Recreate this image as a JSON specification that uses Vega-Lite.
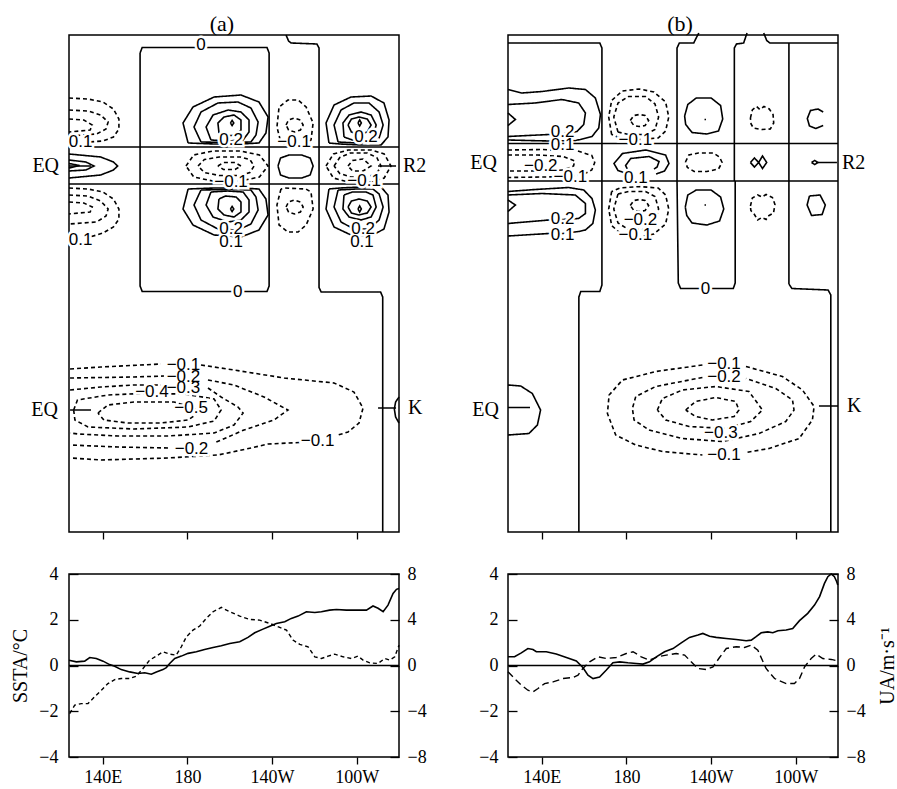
{
"$schema": "https://vega.github.io/schema/vega-lite/v6.json",
"background": "white",
"padding": {"left": 10, "top": 12, "right": 5, "bottom": 5},
"config": {
  "view": {"stroke": "black", "strokeWidth": 1.5},
  "axis": {"labelFont": "Liberation Serif", "labelFontSize": 18, "labelColor": "black", "tickColor": "black", "tickWidth": 1.3, "titleFont": "Liberation Serif", "titleFontSize": 20, "titleFontWeight": "normal", "titleColor": "black", "grid": false, "domain": false}
},
"datasets": {
"ca": [
{"c":"z1","d":"s","x":157.6,"y":95.8},{"c":"z1","d":"s","x":158.6,"y":96.9},{"c":"z1","d":"s","x":217.6,"y":96.9},{"c":"z1","d":"s","x":218.6,"y":95.8},{"c":"z1","d":"s","x":218.6,"y":49.2},{"c":"z1","d":"s","x":217.6,"y":48.1},{"c":"z1","d":"s","x":158.6,"y":48.1},{"c":"z1","d":"s","x":157.6,"y":49.2},{"c":"z1","d":"s","x":157.6,"y":95.8},
{"c":"z2","d":"s","x":226.6,"y":99.4},{"c":"z2","d":"s","x":227.8,"y":98.2},{"c":"z2","d":"s","x":229,"y":97.8},{"c":"z2","d":"s","x":241.2,"y":97.6},{"c":"z2","d":"s","x":242.2,"y":96.8},{"c":"z2","d":"s","x":242.2,"y":48.9},{"c":"z2","d":"s","x":243.2,"y":48.0},{"c":"z2","d":"s","x":271.3,"y":48.0},{"c":"z2","d":"s","x":272.3,"y":47.0},{"c":"z2","d":"s","x":272.3,"y":0},
{"c":"h1","d":"s","x":124,"y":77.0},{"c":"h1","d":"s","x":280,"y":77.0},
{"c":"h2","d":"s","x":124,"y":69.6},{"c":"h2","d":"s","x":280,"y":69.6},
{"c":"p1","d":"s","x":124,"y":75.6},{"c":"p1","d":"s","x":139,"y":75.0},{"c":"p1","d":"s","x":145,"y":74.0},{"c":"p1","d":"s","x":147,"y":73.2},{"c":"p1","d":"s","x":145,"y":72.4},{"c":"p1","d":"s","x":139,"y":71.4},{"c":"p1","d":"s","x":124,"y":70.8},
{"c":"p2","d":"s","x":124,"y":74.4},{"c":"p2","d":"s","x":132,"y":74.0},{"c":"p2","d":"s","x":135.8,"y":73.2},{"c":"p2","d":"s","x":132,"y":72.4},{"c":"p2","d":"s","x":124,"y":72.2},
{"c":"p3","d":"s","x":124,"y":73.7},{"c":"p3","d":"s","x":129,"y":73.3},{"c":"p3","d":"s","x":124,"y":72.8},
{"c":"eq1","d":"s","x":124,"y":73.2},{"c":"eq1","d":"s","x":134.4,"y":73.2},
{"c":"n1","d":"d","x":124,"y":86.8},{"c":"n1","d":"d","x":133,"y":86.6},{"c":"n1","d":"d","x":140,"y":86.0},{"c":"n1","d":"d","x":145,"y":84.6},{"c":"n1","d":"d","x":147.6,"y":82.6},{"c":"n1","d":"d","x":147.6,"y":80.6},{"c":"n1","d":"d","x":145,"y":79.0},{"c":"n1","d":"d","x":140,"y":78.2},{"c":"n1","d":"d","x":133.5,"y":78.0},
{"c":"n2","d":"d","x":124,"y":84.4},{"c":"n2","d":"d","x":133,"y":84.2},{"c":"n2","d":"d","x":139,"y":83.4},{"c":"n2","d":"d","x":142.5,"y":82.0},{"c":"n2","d":"d","x":141.5,"y":80.6},{"c":"n2","d":"d","x":137,"y":79.6},{"c":"n2","d":"d","x":124,"y":79.2},
{"c":"n3","d":"d","x":124,"y":82.6},{"c":"n3","d":"d","x":131,"y":82.4},{"c":"n3","d":"d","x":135,"y":81.4},{"c":"n3","d":"d","x":134,"y":80.4},{"c":"n3","d":"d","x":124,"y":80.0},
{"c":"n4","d":"d","x":124,"y":68.8},{"c":"n4","d":"d","x":133,"y":68.6},{"c":"n4","d":"d","x":140,"y":68.0},{"c":"n4","d":"d","x":145,"y":66.6},{"c":"n4","d":"d","x":147.6,"y":64.6},{"c":"n4","d":"d","x":147.6,"y":62.6},{"c":"n4","d":"d","x":145,"y":61.0},{"c":"n4","d":"d","x":140,"y":59.8},{"c":"n4","d":"d","x":134,"y":59.0},
{"c":"n5","d":"d","x":124,"y":67.4},{"c":"n5","d":"d","x":133,"y":67.2},{"c":"n5","d":"d","x":139,"y":66.2},{"c":"n5","d":"d","x":142.5,"y":64.6},{"c":"n5","d":"d","x":141.5,"y":63.2},{"c":"n5","d":"d","x":137,"y":62.0},{"c":"n5","d":"d","x":124,"y":61.6},
{"c":"n6","d":"d","x":124,"y":66.0},{"c":"n6","d":"d","x":131,"y":65.8},{"c":"n6","d":"d","x":135,"y":65.0},{"c":"n6","d":"d","x":134,"y":64.0},{"c":"n6","d":"d","x":124,"y":63.6},
{"c":"r1","d":"s","x":180.3,"y":77.8},{"c":"r1","d":"s","x":177.9,"y":81.8},{"c":"r1","d":"s","x":182.6,"y":85.0},{"c":"r1","d":"s","x":192.6,"y":87.0},{"c":"r1","d":"s","x":205.3,"y":87.4},{"c":"r1","d":"s","x":213.8,"y":86.0},{"c":"r1","d":"s","x":218.1,"y":83.0},{"c":"r1","d":"s","x":217.1,"y":79.8},{"c":"r1","d":"s","x":213.8,"y":77.8},{"c":"r1","d":"s","x":205.3,"y":77.6},{"c":"r1","d":"s","x":192.6,"y":77.6},{"c":"r1","d":"s","x":180.3,"y":77.8},
{"c":"r2","d":"s","x":186.4,"y":78.0},{"c":"r2","d":"s","x":183.1,"y":81.0},{"c":"r2","d":"s","x":186.4,"y":84.0},{"c":"r2","d":"s","x":194.4,"y":85.8},{"c":"r2","d":"s","x":203.9,"y":86.0},{"c":"r2","d":"s","x":210.0,"y":84.8},{"c":"r2","d":"s","x":213.4,"y":82.0},{"c":"r2","d":"s","x":212.4,"y":79.4},{"c":"r2","d":"s","x":210,"y":78.0},{"c":"r2","d":"s","x":200,"y":77.9},{"c":"r2","d":"s","x":186.4,"y":78.0},
{"c":"r3","d":"s","x":191.1,"y":78.4},{"c":"r3","d":"s","x":188.8,"y":81.0},{"c":"r3","d":"s","x":192.1,"y":83.4},{"c":"r3","d":"s","x":199.2,"y":84.4},{"c":"r3","d":"s","x":205.3,"y":84.0},{"c":"r3","d":"s","x":209.1,"y":82.4},{"c":"r3","d":"s","x":209.1,"y":80.0},{"c":"r3","d":"s","x":206.3,"y":78.4},{"c":"r3","d":"s","x":199,"y":78.2},{"c":"r3","d":"s","x":191.1,"y":78.4},
{"c":"r4","d":"s","x":194.9,"y":79.8},{"c":"r4","d":"s","x":194.4,"y":81.8},{"c":"r4","d":"s","x":197.3,"y":83.0},{"c":"r4","d":"s","x":202.0,"y":83.4},{"c":"r4","d":"s","x":205.3,"y":82.4},{"c":"r4","d":"s","x":205.3,"y":80.4},{"c":"r4","d":"s","x":203.0,"y":79.4},{"c":"r4","d":"s","x":198,"y":79.2},{"c":"r4","d":"s","x":194.9,"y":79.8},
{"c":"rd","d":"s","x":200.3,"y":81.8},{"c":"rd","d":"s","x":201.1,"y":82.3},{"c":"rd","d":"s","x":201.9,"y":81.8},{"c":"rd","d":"s","x":201.1,"y":81.3},{"c":"rd","d":"s","x":200.3,"y":81.8},
{"c":"r1b","d":"s","x":180.3,"y":68.6},{"c":"r1b","d":"s","x":177.9,"y":64.6},{"c":"r1b","d":"s","x":182.6,"y":61.4},{"c":"r1b","d":"s","x":192.6,"y":59.4},{"c":"r1b","d":"s","x":205.3,"y":59.0},{"c":"r1b","d":"s","x":213.8,"y":60.4},{"c":"r1b","d":"s","x":218.1,"y":63.4},{"c":"r1b","d":"s","x":217.1,"y":66.6},{"c":"r1b","d":"s","x":213.8,"y":68.6},{"c":"r1b","d":"s","x":205.3,"y":68.8},{"c":"r1b","d":"s","x":192.6,"y":68.8},{"c":"r1b","d":"s","x":180.3,"y":68.6},
{"c":"r2b","d":"s","x":186.4,"y":68.4},{"c":"r2b","d":"s","x":183.1,"y":65.4},{"c":"r2b","d":"s","x":186.4,"y":62.4},{"c":"r2b","d":"s","x":194.4,"y":60.6},{"c":"r2b","d":"s","x":203.9,"y":60.4},{"c":"r2b","d":"s","x":210.0,"y":61.6},{"c":"r2b","d":"s","x":213.4,"y":64.4},{"c":"r2b","d":"s","x":212.4,"y":67.0},{"c":"r2b","d":"s","x":210,"y":68.4},{"c":"r2b","d":"s","x":200,"y":68.5},{"c":"r2b","d":"s","x":186.4,"y":68.4},
{"c":"r3b","d":"s","x":191.1,"y":68.0},{"c":"r3b","d":"s","x":188.8,"y":65.4},{"c":"r3b","d":"s","x":192.1,"y":63.0},{"c":"r3b","d":"s","x":199.2,"y":62.0},{"c":"r3b","d":"s","x":205.3,"y":62.4},{"c":"r3b","d":"s","x":209.1,"y":64.0},{"c":"r3b","d":"s","x":209.1,"y":66.4},{"c":"r3b","d":"s","x":206.3,"y":68.0},{"c":"r3b","d":"s","x":199,"y":68.2},{"c":"r3b","d":"s","x":191.1,"y":68.0},
{"c":"r4b","d":"s","x":194.9,"y":66.6},{"c":"r4b","d":"s","x":194.4,"y":64.6},{"c":"r4b","d":"s","x":197.3,"y":63.4},{"c":"r4b","d":"s","x":202.0,"y":63.0},{"c":"r4b","d":"s","x":205.3,"y":64.0},{"c":"r4b","d":"s","x":205.3,"y":66.0},{"c":"r4b","d":"s","x":203.0,"y":67.0},{"c":"r4b","d":"s","x":198,"y":67.2},{"c":"r4b","d":"s","x":194.9,"y":66.6},
{"c":"rdb","d":"s","x":200.3,"y":64.6},{"c":"rdb","d":"s","x":201.1,"y":65.1},{"c":"rdb","d":"s","x":201.9,"y":64.6},{"c":"rdb","d":"s","x":201.1,"y":64.1},{"c":"rdb","d":"s","x":200.3,"y":64.6},
{"c":"m1","d":"d","x":179.3,"y":73.2},{"c":"m1","d":"d","x":183,"y":75.4},{"c":"m1","d":"d","x":192,"y":76.2},{"c":"m1","d":"d","x":205,"y":76.2},{"c":"m1","d":"d","x":214,"y":75.4},{"c":"m1","d":"d","x":218.1,"y":73.2},{"c":"m1","d":"d","x":214,"y":71.0},{"c":"m1","d":"d","x":205,"y":70.2},{"c":"m1","d":"d","x":192,"y":70.2},{"c":"m1","d":"d","x":183,"y":71.0},{"c":"m1","d":"d","x":179.3,"y":73.2},
{"c":"m2","d":"d","x":185,"y":73.2},{"c":"m2","d":"d","x":188,"y":74.5},{"c":"m2","d":"d","x":195,"y":75.0},{"c":"m2","d":"d","x":205,"y":75.0},{"c":"m2","d":"d","x":209.5,"y":74.5},{"c":"m2","d":"d","x":211.5,"y":73.2},{"c":"m2","d":"d","x":209.5,"y":71.9},{"c":"m2","d":"d","x":205,"y":71.3},{"c":"m2","d":"d","x":195,"y":71.3},{"c":"m2","d":"d","x":188,"y":71.9},{"c":"m2","d":"d","x":185,"y":73.2},
{"c":"m3","d":"d","x":194.4,"y":73.2},{"c":"m3","d":"d","x":197,"y":73.9},{"c":"m3","d":"d","x":202.5,"y":73.9},{"c":"m3","d":"d","x":205.3,"y":73.2},{"c":"m3","d":"d","x":202.5,"y":72.5},{"c":"m3","d":"d","x":197,"y":72.5},{"c":"m3","d":"d","x":194.4,"y":73.2},
{"c":"cn1","d":"d","x":226,"y":77.7},{"c":"cn1","d":"d","x":224.2,"y":77.8},{"c":"cn1","d":"d","x":222.3,"y":81.0},{"c":"cn1","d":"d","x":223.3,"y":85.0},{"c":"cn1","d":"d","x":227.5,"y":86.4},{"c":"cn1","d":"d","x":232.3,"y":86.4},{"c":"cn1","d":"d","x":236.1,"y":85.0},{"c":"cn1","d":"d","x":239.4,"y":81.8},{"c":"cn1","d":"d","x":238.4,"y":78.4},{"c":"cn1","d":"d","x":236,"y":77.8},
{"c":"cn2","d":"d","x":226.6,"y":81.4},{"c":"cn2","d":"d","x":227.8,"y":82.4},{"c":"cn2","d":"d","x":230.6,"y":82.8},{"c":"cn2","d":"d","x":233.4,"y":82.4},{"c":"cn2","d":"d","x":234.7,"y":81.4},{"c":"cn2","d":"d","x":233.4,"y":80.4},{"c":"cn2","d":"d","x":230.6,"y":80.0},{"c":"cn2","d":"d","x":227.8,"y":80.4},{"c":"cn2","d":"d","x":226.6,"y":81.4},
{"c":"cm","d":"s","x":222.8,"y":73.2},{"c":"cm","d":"s","x":224,"y":74.8},{"c":"cm","d":"s","x":228,"y":75.4},{"c":"cm","d":"s","x":234,"y":75.4},{"c":"cm","d":"s","x":238,"y":74.8},{"c":"cm","d":"s","x":239.4,"y":73.2},{"c":"cm","d":"s","x":238,"y":71.4},{"c":"cm","d":"s","x":234,"y":70.8},{"c":"cm","d":"s","x":228,"y":70.8},{"c":"cm","d":"s","x":224,"y":71.4},{"c":"cm","d":"s","x":222.8,"y":73.2},
{"c":"cn1b","d":"d","x":224.2,"y":68.6},{"c":"cn1b","d":"d","x":222.3,"y":65.4},{"c":"cn1b","d":"d","x":223.3,"y":61.4},{"c":"cn1b","d":"d","x":227.5,"y":60.0},{"c":"cn1b","d":"d","x":232.3,"y":60.0},{"c":"cn1b","d":"d","x":236.1,"y":61.4},{"c":"cn1b","d":"d","x":239.4,"y":64.6},{"c":"cn1b","d":"d","x":238.4,"y":68.0},{"c":"cn1b","d":"d","x":236,"y":68.6},{"c":"cn1b","d":"d","x":226,"y":68.8},{"c":"cn1b","d":"d","x":224.2,"y":68.6},
{"c":"cn2b","d":"d","x":226.6,"y":65.0},{"c":"cn2b","d":"d","x":227.8,"y":66.0},{"c":"cn2b","d":"d","x":230.6,"y":66.4},{"c":"cn2b","d":"d","x":233.4,"y":66.0},{"c":"cn2b","d":"d","x":234.7,"y":65.0},{"c":"cn2b","d":"d","x":233.4,"y":64.0},{"c":"cn2b","d":"d","x":230.6,"y":63.6},{"c":"cn2b","d":"d","x":227.8,"y":64.0},{"c":"cn2b","d":"d","x":226.6,"y":65.0},
{"c":"R1","d":"s","x":246.9,"y":77.8},{"c":"R1","d":"s","x":245.5,"y":81.8},{"c":"R1","d":"s","x":249.3,"y":85.4},{"c":"R1","d":"s","x":257.3,"y":87.0},{"c":"R1","d":"s","x":266.8,"y":87.2},{"c":"R1","d":"s","x":272.9,"y":85.8},{"c":"R1","d":"s","x":275.3,"y":82.4},{"c":"R1","d":"s","x":274.8,"y":79.0},{"c":"R1","d":"s","x":271.5,"y":77.4},{"c":"R1","d":"s","x":262,"y":77.4},{"c":"R1","d":"s","x":252,"y":77.6},{"c":"R1","d":"s","x":246.9,"y":77.8},
{"c":"R2","d":"s","x":251.2,"y":78.0},{"c":"R2","d":"s","x":249.3,"y":81.4},{"c":"R2","d":"s","x":252.6,"y":84.4},{"c":"R2","d":"s","x":258.7,"y":85.8},{"c":"R2","d":"s","x":265.8,"y":85.8},{"c":"R2","d":"s","x":270.6,"y":84.0},{"c":"R2","d":"s","x":272.5,"y":81.4},{"c":"R2","d":"s","x":270.6,"y":78.8},{"c":"R2","d":"s","x":267.7,"y":77.8},{"c":"R2","d":"s","x":260,"y":77.8},{"c":"R2","d":"s","x":251.2,"y":78.0},
{"c":"R3","d":"s","x":254.0,"y":79.0},{"c":"R3","d":"s","x":253.5,"y":81.8},{"c":"R3","d":"s","x":256.4,"y":83.4},{"c":"R3","d":"s","x":262.1,"y":84.0},{"c":"R3","d":"s","x":266.8,"y":83.4},{"c":"R3","d":"s","x":269.2,"y":81.4},{"c":"R3","d":"s","x":267.7,"y":79.0},{"c":"R3","d":"s","x":264.4,"y":78.4},{"c":"R3","d":"s","x":258,"y":78.4},{"c":"R3","d":"s","x":254,"y":79.0},
{"c":"R4","d":"s","x":255.9,"y":81.4},{"c":"R4","d":"s","x":257.5,"y":82.6},{"c":"R4","d":"s","x":261,"y":83.0},{"c":"R4","d":"s","x":265,"y":82.6},{"c":"R4","d":"s","x":266.8,"y":81.4},{"c":"R4","d":"s","x":265,"y":80.0},{"c":"R4","d":"s","x":261,"y":79.4},{"c":"R4","d":"s","x":257.5,"y":80.0},{"c":"R4","d":"s","x":255.9,"y":81.4},
{"c":"Rd","d":"s","x":260.6,"y":81.8},{"c":"Rd","d":"s","x":261.4,"y":82.4},{"c":"Rd","d":"s","x":262.2,"y":81.8},{"c":"Rd","d":"s","x":261.4,"y":81.2},{"c":"Rd","d":"s","x":260.6,"y":81.8},
{"c":"R1b","d":"s","x":246.9,"y":68.6},{"c":"R1b","d":"s","x":245.5,"y":64.6},{"c":"R1b","d":"s","x":249.3,"y":61.0},{"c":"R1b","d":"s","x":257.3,"y":59.4},{"c":"R1b","d":"s","x":266.8,"y":59.2},{"c":"R1b","d":"s","x":272.9,"y":60.6},{"c":"R1b","d":"s","x":275.3,"y":64.0},{"c":"R1b","d":"s","x":274.8,"y":67.4},{"c":"R1b","d":"s","x":271.5,"y":69.0},{"c":"R1b","d":"s","x":262,"y":69.0},{"c":"R1b","d":"s","x":252,"y":68.8},{"c":"R1b","d":"s","x":246.9,"y":68.6},
{"c":"R2b","d":"s","x":251.2,"y":68.4},{"c":"R2b","d":"s","x":249.3,"y":65.0},{"c":"R2b","d":"s","x":252.6,"y":62.0},{"c":"R2b","d":"s","x":258.7,"y":60.6},{"c":"R2b","d":"s","x":265.8,"y":60.6},{"c":"R2b","d":"s","x":270.6,"y":62.4},{"c":"R2b","d":"s","x":272.5,"y":65.0},{"c":"R2b","d":"s","x":270.6,"y":67.6},{"c":"R2b","d":"s","x":267.7,"y":68.6},{"c":"R2b","d":"s","x":260,"y":68.6},{"c":"R2b","d":"s","x":251.2,"y":68.4},
{"c":"R3b","d":"s","x":254.0,"y":67.4},{"c":"R3b","d":"s","x":253.5,"y":64.6},{"c":"R3b","d":"s","x":256.4,"y":63.0},{"c":"R3b","d":"s","x":262.1,"y":62.4},{"c":"R3b","d":"s","x":266.8,"y":63.0},{"c":"R3b","d":"s","x":269.2,"y":65.0},{"c":"R3b","d":"s","x":267.7,"y":67.4},{"c":"R3b","d":"s","x":264.4,"y":68.0},{"c":"R3b","d":"s","x":258,"y":68.0},{"c":"R3b","d":"s","x":254,"y":67.4},
{"c":"R4b","d":"s","x":255.9,"y":65.0},{"c":"R4b","d":"s","x":257.5,"y":66.2},{"c":"R4b","d":"s","x":261,"y":66.6},{"c":"R4b","d":"s","x":265,"y":66.2},{"c":"R4b","d":"s","x":266.8,"y":65.0},{"c":"R4b","d":"s","x":265,"y":63.8},{"c":"R4b","d":"s","x":261,"y":63.4},{"c":"R4b","d":"s","x":257.5,"y":63.8},{"c":"R4b","d":"s","x":255.9,"y":65.0},
{"c":"Rdb","d":"s","x":260.6,"y":64.6},{"c":"Rdb","d":"s","x":261.4,"y":65.2},{"c":"Rdb","d":"s","x":262.2,"y":64.6},{"c":"Rdb","d":"s","x":261.4,"y":64.0},{"c":"Rdb","d":"s","x":260.6,"y":64.6},
{"c":"M1","d":"d","x":245.5,"y":73.2},{"c":"M1","d":"d","x":249,"y":75.6},{"c":"M1","d":"d","x":256,"y":76.4},{"c":"M1","d":"d","x":267,"y":76.4},{"c":"M1","d":"d","x":273,"y":75.6},{"c":"M1","d":"d","x":276.2,"y":73.2},{"c":"M1","d":"d","x":273,"y":70.8},{"c":"M1","d":"d","x":267,"y":70.0},{"c":"M1","d":"d","x":256,"y":70.0},{"c":"M1","d":"d","x":249,"y":70.8},{"c":"M1","d":"d","x":245.5,"y":73.2},
{"c":"M2","d":"d","x":249.3,"y":73.2},{"c":"M2","d":"d","x":252,"y":74.9},{"c":"M2","d":"d","x":257,"y":75.8},{"c":"M2","d":"d","x":265,"y":75.8},{"c":"M2","d":"d","x":269.5,"y":74.9},{"c":"M2","d":"d","x":271.5,"y":73.2},{"c":"M2","d":"d","x":269.5,"y":71.7},{"c":"M2","d":"d","x":265,"y":71.0},{"c":"M2","d":"d","x":257,"y":71.0},{"c":"M2","d":"d","x":252,"y":71.7},{"c":"M2","d":"d","x":249.3,"y":73.2},
{"c":"M3","d":"d","x":255.9,"y":73.2},{"c":"M3","d":"d","x":258,"y":74.3},{"c":"M3","d":"d","x":263,"y":74.6},{"c":"M3","d":"d","x":266.8,"y":73.2},{"c":"M3","d":"d","x":263,"y":72.2},{"c":"M3","d":"d","x":258,"y":72.2},{"c":"M3","d":"d","x":255.9,"y":73.2},
{"c":"r2t","d":"s","x":270.1,"y":73.2},{"c":"r2t","d":"s","x":278.6,"y":73.2},
{"c":"K1a","d":"d","x":124.5,"y":32.6},{"c":"K1a","d":"d","x":139.1,"y":33.0},{"c":"K1a","d":"d","x":167.5,"y":33.6},
{"c":"K1b","d":"d","x":186.4,"y":33.4},{"c":"K1b","d":"d","x":202.0,"y":32.4},{"c":"K1b","d":"d","x":225.7,"y":30.8},{"c":"K1b","d":"d","x":249.3,"y":29.8},{"c":"K1b","d":"d","x":258.7,"y":28.0},{"c":"K1b","d":"d","x":263.0,"y":24.8},{"c":"K1b","d":"d","x":261.1,"y":21.8},{"c":"K1b","d":"d","x":255.9,"y":20.0},{"c":"K1b","d":"d","x":250.5,"y":19.3},
{"c":"K1c","d":"d","x":233,"y":17.9},{"c":"K1c","d":"d","x":218.1,"y":17.6},{"c":"K1c","d":"d","x":210.1,"y":16.8},{"c":"K1c","d":"d","x":194.4,"y":15.4},{"c":"K1c","d":"d","x":170.8,"y":14.8},{"c":"K1c","d":"d","x":139.1,"y":14.4},{"c":"K1c","d":"d","x":124.9,"y":14.8},
{"c":"K2a","d":"d","x":124.5,"y":30.8},{"c":"K2a","d":"d","x":154.7,"y":31.0},{"c":"K2a","d":"d","x":168.9,"y":31.2},
{"c":"K2b","d":"d","x":189.7,"y":30.4},{"c":"K2b","d":"d","x":202.0,"y":29.4},{"c":"K2b","d":"d","x":216.2,"y":27.0},{"c":"K2b","d":"d","x":227.5,"y":24.4},{"c":"K2b","d":"d","x":220.9,"y":22.4},{"c":"K2b","d":"d","x":206.7,"y":20.4},{"c":"K2b","d":"d","x":195.9,"y":18.4},{"c":"K2b","d":"d","x":192.6,"y":17.8},
{"c":"K2c","d":"d","x":170.8,"y":16.8},{"c":"K2c","d":"d","x":147.2,"y":17.0},{"c":"K2c","d":"d","x":124.5,"y":17.4},
{"c":"K3a","d":"d","x":124.5,"y":28.4},{"c":"K3a","d":"d","x":139.1,"y":29.0},{"c":"K3a","d":"d","x":154.7,"y":29.4},{"c":"K3a","d":"d","x":167.5,"y":29.4},
{"c":"K3b","d":"d","x":189.7,"y":28.8},{"c":"K3b","d":"d","x":195.9,"y":27.0},{"c":"K3b","d":"d","x":203.9,"y":25.0},{"c":"K3b","d":"d","x":206.3,"y":23.8},{"c":"K3b","d":"d","x":202.0,"y":21.4},{"c":"K3b","d":"d","x":192.6,"y":19.8},{"c":"K3b","d":"d","x":170.8,"y":19.2},{"c":"K3b","d":"d","x":147.2,"y":19.2},{"c":"K3b","d":"d","x":128.3,"y":19.6},{"c":"K3b","d":"d","x":124.5,"y":19.8},
{"c":"K4","d":"d","x":126.2,"y":24.4},{"c":"K4","d":"d","x":128,"y":26.4},{"c":"K4","d":"d","x":142.4,"y":27.4},{"c":"K4","d":"d","x":158.0,"y":27.7},{"c":"K4","d":"d","x":178.4,"y":27.6},{"c":"K4","d":"d","x":192.6,"y":26.6},{"c":"K4","d":"d","x":195.9,"y":24.4},{"c":"K4","d":"d","x":192.6,"y":22.2},{"c":"K4","d":"d","x":180.3,"y":21.0},{"c":"K4","d":"d","x":154.7,"y":20.6},{"c":"K4","d":"d","x":133.0,"y":21.0},{"c":"K4","d":"d","x":126.8,"y":22.4},{"c":"K4","d":"d","x":126.2,"y":24.4},
{"c":"K5","d":"d","x":137.7,"y":23.8},{"c":"K5","d":"d","x":142.4,"y":25.4},{"c":"K5","d":"d","x":154.7,"y":26.0},{"c":"K5","d":"d","x":173.6,"y":26.0},{"c":"K5","d":"d","x":183,"y":24.8},{"c":"K5","d":"d","x":185.0,"y":23.8},{"c":"K5","d":"d","x":180.3,"y":22.4},{"c":"K5","d":"d","x":167.5,"y":21.8},{"c":"K5","d":"d","x":151.9,"y":21.8},{"c":"K5","d":"d","x":140.5,"y":22.4},{"c":"K5","d":"d","x":137.7,"y":23.8},
{"c":"ks","d":"s","x":280,"y":27.0},{"c":"ks","d":"s","x":278.4,"y":26.0},{"c":"ks","d":"s","x":277.8,"y":24.6},{"c":"ks","d":"s","x":278.4,"y":23.0},{"c":"ks","d":"s","x":280,"y":21.8},
{"c":"eq2","d":"s","x":124.5,"y":24.4},{"c":"eq2","d":"s","x":134.4,"y":24.4},
{"c":"kt","d":"s","x":270.1,"y":24.8},{"c":"kt","d":"s","x":278.6,"y":24.8}
],
"la": [
{"x":186.4,"y":97.4,"t":"0"},{"x":203.8,"y":48.0,"t":"0"},
{"x":129.5,"y":78.0,"t":"0.1"},{"x":129.5,"y":58.4,"t":"0.1"},
{"x":200.6,"y":78.4,"t":"0.2"},{"x":200.6,"y":70.1,"t":"−0.1"},{"x":200.6,"y":58.1,"t":"0.1"},{"x":200.6,"y":60.6,"t":"0.2"},
{"x":230.4,"y":78.1,"t":"−0.1"},{"x":264.4,"y":79.0,"t":"0.2"},{"x":263.5,"y":70.3,"t":"−0.1"},{"x":262.5,"y":58.1,"t":"0.1"},{"x":263.0,"y":60.6,"t":"0.2"},
{"x":178.1,"y":33.5,"t":"−0.1"},{"x":178.1,"y":31.1,"t":"−0.2"},{"x":178.1,"y":28.9,"t":"−0.3"},{"x":163.2,"y":28.0,"t":"−0.4"},{"x":181.7,"y":24.9,"t":"−0.5"},{"x":181.9,"y":16.6,"t":"−0.2"},{"x":241.5,"y":18.3,"t":"−0.1"}
],
"sar": [{"x":119.3,"y":73.2,"t":"EQ"},{"x":118.8,"y":24.4,"t":"EQ"}],
"sal": [{"x":281.9,"y":73.2,"t":"R2"},{"x":284.3,"y":24.8,"t":"K"}],
"cb": [
{"c":"P1","d":"s","x":124,"y":97.8},{"c":"P1","d":"s","x":167.4,"y":97.8},{"c":"P1","d":"s","x":168.4,"y":96.8},{"c":"P1","d":"s","x":168.4,"y":49.4},{"c":"P1","d":"s","x":167.4,"y":48.1},{"c":"P1","d":"s","x":158.4,"y":48.1},{"c":"P1","d":"s","x":157.5,"y":47.0},{"c":"P1","d":"s","x":157.5,"y":0},
{"c":"P2","d":"s","x":214.2,"y":99.8},{"c":"P2","d":"s","x":213.2,"y":99.0},{"c":"P2","d":"s","x":211.8,"y":97.8},{"c":"P2","d":"s","x":205,"y":97.8},{"c":"P2","d":"s","x":203.9,"y":96.8},{"c":"P2","d":"s","x":203.9,"y":70.2},{"c":"P2","d":"s","x":204.5,"y":49.8},{"c":"P2","d":"s","x":205.6,"y":48.7},{"c":"P2","d":"s","x":230.5,"y":48.7},{"c":"P2","d":"s","x":231.4,"y":49.8},{"c":"P2","d":"s","x":231.4,"y":70.2},
{"c":"P3","d":"s","x":237.0,"y":99.8},{"c":"P3","d":"s","x":235.4,"y":97.8},{"c":"P3","d":"s","x":232,"y":97.6},{"c":"P3","d":"s","x":231.0,"y":96.8},{"c":"P3","d":"s","x":231.0,"y":70.2},
{"c":"P4","d":"s","x":244.9,"y":99.8},{"c":"P4","d":"s","x":246.3,"y":98.3},{"c":"P4","d":"s","x":247.8,"y":97.8},{"c":"P4","d":"s","x":280,"y":97.8},
{"c":"P5","d":"s","x":256.8,"y":97.8},{"c":"P5","d":"s","x":256.8,"y":49.6},{"c":"P5","d":"s","x":258.2,"y":48.7},{"c":"P5","d":"s","x":275.3,"y":48.4},{"c":"P5","d":"s","x":276.6,"y":47.4},{"c":"P5","d":"s","x":276.6,"y":0},
{"c":"H1","d":"s","x":124,"y":77.7},{"c":"H1","d":"s","x":280,"y":77.7},
{"c":"H2","d":"s","x":124,"y":70.2},{"c":"H2","d":"s","x":280,"y":70.2},
{"c":"LB1","d":"s","x":124,"y":88.5},{"c":"LB1","d":"s","x":130.6,"y":87.8},{"c":"LB1","d":"s","x":140.1,"y":88.1},{"c":"LB1","d":"s","x":152.7,"y":88.8},{"c":"LB1","d":"s","x":160.6,"y":88.5},{"c":"LB1","d":"s","x":165.3,"y":86.8},{"c":"LB1","d":"s","x":167.7,"y":83.5},{"c":"LB1","d":"s","x":166.9,"y":80.8},{"c":"LB1","d":"s","x":163.7,"y":79.1},{"c":"LB1","d":"s","x":158.2,"y":78.5},{"c":"LB1","d":"s","x":155.8,"y":78.3},{"c":"LB1","d":"s","x":143.2,"y":78.2},{"c":"LB1","d":"s","x":124,"y":78.4},
{"c":"LB2","d":"s","x":124,"y":85.5},{"c":"LB2","d":"s","x":136.9,"y":85.8},{"c":"LB2","d":"s","x":149.5,"y":86.5},{"c":"LB2","d":"s","x":157.4,"y":85.8},{"c":"LB2","d":"s","x":160.6,"y":83.8},{"c":"LB2","d":"s","x":159.8,"y":81.5},{"c":"LB2","d":"s","x":156.6,"y":80.1},{"c":"LB2","d":"s","x":149.8,"y":79.6},{"c":"LB2","d":"s","x":143.2,"y":79.5},{"c":"LB2","d":"s","x":124,"y":79.1},
{"c":"LB3","d":"s","x":124,"y":83.8},{"c":"LB3","d":"s","x":127.5,"y":82.5},{"c":"LB3","d":"s","x":124,"y":81.3},
{"c":"LB1b","d":"s","x":124,"y":68.1},{"c":"LB1b","d":"s","x":136.9,"y":68.5},{"c":"LB1b","d":"s","x":152.7,"y":68.9},{"c":"LB1b","d":"s","x":159.8,"y":68.4},{"c":"LB1b","d":"s","x":163.7,"y":66.7},{"c":"LB1b","d":"s","x":165.3,"y":64.4},{"c":"LB1b","d":"s","x":164.1,"y":61.7},{"c":"LB1b","d":"s","x":160.6,"y":60.4},{"c":"LB1b","d":"s","x":157.4,"y":60.1},{"c":"LB1b","d":"s","x":149.8,"y":59.7},{"c":"LB1b","d":"s","x":143.2,"y":59.7},{"c":"LB1b","d":"s","x":124,"y":59.2},
{"c":"LB2b","d":"s","x":124,"y":67.4},{"c":"LB2b","d":"s","x":140.1,"y":67.7},{"c":"LB2b","d":"s","x":155.8,"y":67.4},{"c":"LB2b","d":"s","x":160.6,"y":65.7},{"c":"LB2b","d":"s","x":160.6,"y":63.7},{"c":"LB2b","d":"s","x":157.4,"y":62.7},{"c":"LB2b","d":"s","x":149.8,"y":62.5},{"c":"LB2b","d":"s","x":143.2,"y":62.4},{"c":"LB2b","d":"s","x":124,"y":61.7},
{"c":"LB3b","d":"s","x":124,"y":66.4},{"c":"LB3b","d":"s","x":127.5,"y":65.4},{"c":"LB3b","d":"s","x":124,"y":64.1},
{"c":"LD1","d":"d","x":124,"y":76.4},{"c":"LD1","d":"d","x":140,"y":76.5},{"c":"LD1","d":"d","x":157,"y":76.2},{"c":"LD1","d":"d","x":163.6,"y":75.3},{"c":"LD1","d":"d","x":165,"y":73.9},{"c":"LD1","d":"d","x":163.6,"y":72.4},{"c":"LD1","d":"d","x":159,"y":71.4},{"c":"LD1","d":"d","x":150,"y":71.1},{"c":"LD1","d":"d","x":141,"y":71.0},{"c":"LD1","d":"d","x":124,"y":70.9},
{"c":"LD2","d":"d","x":124,"y":75.4},{"c":"LD2","d":"d","x":138,"y":75.4},{"c":"LD2","d":"d","x":150,"y":75.1},{"c":"LD2","d":"d","x":155.5,"y":74.2},{"c":"LD2","d":"d","x":155,"y":73.2},{"c":"LD2","d":"d","x":150,"y":72.4},{"c":"LD2","d":"d","x":140,"y":72.2},{"c":"LD2","d":"d","x":124,"y":72.2},
{"c":"CD1","d":"d","x":173,"y":79.5},{"c":"CD1","d":"d","x":171.6,"y":83},{"c":"CD1","d":"d","x":173,"y":86.3},{"c":"CD1","d":"d","x":178,"y":88.2},{"c":"CD1","d":"d","x":186,"y":88.6},{"c":"CD1","d":"d","x":193,"y":88.0},{"c":"CD1","d":"d","x":198.5,"y":86},{"c":"CD1","d":"d","x":200,"y":83},{"c":"CD1","d":"d","x":198.5,"y":80.2},{"c":"CD1","d":"d","x":195,"y":78.8},{"c":"CD1","d":"d","x":186,"y":78.5},{"c":"CD1","d":"d","x":177,"y":78.8},{"c":"CD1","d":"d","x":173,"y":79.5},
{"c":"CD2","d":"d","x":176,"y":80},{"c":"CD2","d":"d","x":174,"y":83},{"c":"CD2","d":"d","x":176,"y":85.8},{"c":"CD2","d":"d","x":181,"y":87.1},{"c":"CD2","d":"d","x":189,"y":87.1},{"c":"CD2","d":"d","x":193.5,"y":85.6},{"c":"CD2","d":"d","x":195.2,"y":83},{"c":"CD2","d":"d","x":193.5,"y":80.5},{"c":"CD2","d":"d","x":189,"y":79.5},{"c":"CD2","d":"d","x":181,"y":79.5},{"c":"CD2","d":"d","x":176,"y":80},
{"c":"CD3","d":"d","x":181.8,"y":82.3},{"c":"CD3","d":"d","x":183.5,"y":83.3},{"c":"CD3","d":"d","x":186,"y":83.5},{"c":"CD3","d":"d","x":188.8,"y":83.3},{"c":"CD3","d":"d","x":190.5,"y":82.3},{"c":"CD3","d":"d","x":188.8,"y":81.3},{"c":"CD3","d":"d","x":186,"y":81.1},{"c":"CD3","d":"d","x":183.5,"y":81.3},{"c":"CD3","d":"d","x":181.8,"y":82.3},
{"c":"CM1","d":"s","x":180,"y":71.7},{"c":"CM1","d":"s","x":176,"y":72.3},{"c":"CM1","d":"s","x":174.1,"y":73.7},{"c":"CM1","d":"s","x":178.1,"y":75.7},{"c":"CM1","d":"s","x":189.1,"y":76.4},{"c":"CM1","d":"s","x":198.5,"y":75.4},{"c":"CM1","d":"s","x":200.1,"y":73.7},{"c":"CM1","d":"s","x":198,"y":72.2},{"c":"CM1","d":"s","x":194,"y":71.6},
{"c":"CM2","d":"s","x":180.5,"y":72.5},{"c":"CM2","d":"s","x":179.6,"y":73.3},{"c":"CM2","d":"s","x":182,"y":74.7},{"c":"CM2","d":"s","x":190.7,"y":75.1},{"c":"CM2","d":"s","x":195.4,"y":74.1},{"c":"CM2","d":"s","x":194.5,"y":73.0},{"c":"CM2","d":"s","x":193,"y":72.6},
{"c":"CD1b","d":"d","x":173,"y":68.1},{"c":"CD1b","d":"d","x":171.6,"y":64.6},{"c":"CD1b","d":"d","x":173,"y":61.3},{"c":"CD1b","d":"d","x":178,"y":59.4},{"c":"CD1b","d":"d","x":186,"y":59.0},{"c":"CD1b","d":"d","x":193,"y":59.6},{"c":"CD1b","d":"d","x":198.5,"y":61.6},{"c":"CD1b","d":"d","x":200,"y":64.6},{"c":"CD1b","d":"d","x":198.5,"y":67.4},{"c":"CD1b","d":"d","x":195,"y":68.8},{"c":"CD1b","d":"d","x":186,"y":69.1},{"c":"CD1b","d":"d","x":177,"y":68.8},{"c":"CD1b","d":"d","x":173,"y":68.1},
{"c":"CD2b","d":"d","x":176,"y":67.6},{"c":"CD2b","d":"d","x":174,"y":64.6},{"c":"CD2b","d":"d","x":176,"y":61.8},{"c":"CD2b","d":"d","x":181,"y":60.5},{"c":"CD2b","d":"d","x":189,"y":60.5},{"c":"CD2b","d":"d","x":193.5,"y":62.0},{"c":"CD2b","d":"d","x":195.2,"y":64.6},{"c":"CD2b","d":"d","x":193.5,"y":67.1},{"c":"CD2b","d":"d","x":189,"y":68.1},{"c":"CD2b","d":"d","x":181,"y":68.1},{"c":"CD2b","d":"d","x":176,"y":67.6},
{"c":"CD3b","d":"d","x":181.8,"y":65.3},{"c":"CD3b","d":"d","x":183.5,"y":66.3},{"c":"CD3b","d":"d","x":186,"y":66.5},{"c":"CD3b","d":"d","x":188.8,"y":66.3},{"c":"CD3b","d":"d","x":190.5,"y":65.3},{"c":"CD3b","d":"d","x":188.8,"y":64.3},{"c":"CD3b","d":"d","x":186,"y":64.1},{"c":"CD3b","d":"d","x":183.5,"y":64.3},{"c":"CD3b","d":"d","x":181.8,"y":65.3},
{"c":"C3a","d":"s","x":207.5,"y":83.2},{"c":"C3a","d":"s","x":209,"y":85.5},{"c":"C3a","d":"s","x":213,"y":86.8},{"c":"C3a","d":"s","x":220,"y":86.8},{"c":"C3a","d":"s","x":224.5,"y":85.3},{"c":"C3a","d":"s","x":225.5,"y":82.6},{"c":"C3a","d":"s","x":223.5,"y":80.2},{"c":"C3a","d":"s","x":218,"y":79.6},{"c":"C3a","d":"s","x":211,"y":79.9},{"c":"C3a","d":"s","x":208,"y":81.5},{"c":"C3a","d":"s","x":207.5,"y":83.2},
{"c":"dot1","d":"s","x":216.9,"y":82.5},{"c":"dot1","d":"s","x":217.6,"y":82.5},
{"c":"C3m","d":"d","x":207.9,"y":74.0},{"c":"C3m","d":"d","x":209.5,"y":75.4},{"c":"C3m","d":"d","x":214,"y":75.8},{"c":"C3m","d":"d","x":221,"y":75.8},{"c":"C3m","d":"d","x":224,"y":75.0},{"c":"C3m","d":"d","x":225.2,"y":73.9},{"c":"C3m","d":"d","x":223.5,"y":72.6},{"c":"C3m","d":"d","x":218,"y":72.1},{"c":"C3m","d":"d","x":212,"y":72.1},{"c":"C3m","d":"d","x":208.8,"y":72.9},{"c":"C3m","d":"d","x":207.9,"y":74.0},
{"c":"C3b","d":"s","x":207.8,"y":65.0},{"c":"C3b","d":"s","x":209,"y":67.4},{"c":"C3b","d":"s","x":213,"y":68.4},{"c":"C3b","d":"s","x":220,"y":68.4},{"c":"C3b","d":"s","x":224.5,"y":67.0},{"c":"C3b","d":"s","x":226,"y":64.6},{"c":"C3b","d":"s","x":224,"y":62.2},{"c":"C3b","d":"s","x":218,"y":61.4},{"c":"C3b","d":"s","x":211,"y":61.8},{"c":"C3b","d":"s","x":208.5,"y":63.3},{"c":"C3b","d":"s","x":207.8,"y":65.0},
{"c":"dot2","d":"s","x":216.9,"y":65.4},{"c":"dot2","d":"s","x":217.6,"y":65.4},
{"c":"C4a","d":"d","x":238.6,"y":82.8},{"c":"C4a","d":"d","x":239.5,"y":84.4},{"c":"C4a","d":"d","x":241.5,"y":85.1},{"c":"C4a","d":"d","x":243,"y":84.5},{"c":"C4a","d":"d","x":245,"y":85.1},{"c":"C4a","d":"d","x":247.5,"y":84.6},{"c":"C4a","d":"d","x":249.3,"y":83.5},{"c":"C4a","d":"d","x":249.6,"y":81.8},{"c":"C4a","d":"d","x":248,"y":80.6},{"c":"C4a","d":"d","x":244,"y":80.5},{"c":"C4a","d":"d","x":240,"y":80.8},{"c":"C4a","d":"d","x":238.9,"y":81.6},{"c":"C4a","d":"d","x":238.6,"y":82.8},
{"c":"C4m","d":"s","x":238.6,"y":73.9},{"c":"C4m","d":"s","x":240.5,"y":74.8},{"c":"C4m","d":"s","x":242.5,"y":73.9},{"c":"C4m","d":"s","x":244.3,"y":75.2},{"c":"C4m","d":"s","x":246.3,"y":73.9},{"c":"C4m","d":"s","x":244.3,"y":72.7},{"c":"C4m","d":"s","x":242.5,"y":73.9},{"c":"C4m","d":"s","x":240.5,"y":73.0},{"c":"C4m","d":"s","x":238.6,"y":73.9},
{"c":"C4b","d":"d","x":238.6,"y":65.2},{"c":"C4b","d":"d","x":239.5,"y":66.8},{"c":"C4b","d":"d","x":242,"y":67.4},{"c":"C4b","d":"d","x":244,"y":67.0},{"c":"C4b","d":"d","x":246,"y":67.5},{"c":"C4b","d":"d","x":249,"y":66.9},{"c":"C4b","d":"d","x":250.2,"y":65.5},{"c":"C4b","d":"d","x":249.5,"y":63.8},{"c":"C4b","d":"d","x":247,"y":63.2},{"c":"C4b","d":"d","x":246,"y":62.5},{"c":"C4b","d":"d","x":244,"y":62.9},{"c":"C4b","d":"d","x":242,"y":62.4},{"c":"C4b","d":"d","x":240.5,"y":63.5},{"c":"C4b","d":"d","x":238.8,"y":64.3},{"c":"C4b","d":"d","x":238.6,"y":65.2},
{"c":"C5a","d":"s","x":273.0,"y":84.0},{"c":"C5a","d":"s","x":270.5,"y":84.6},{"c":"C5a","d":"s","x":267,"y":84.3},{"c":"C5a","d":"s","x":265.5,"y":82.7},{"c":"C5a","d":"s","x":266.5,"y":81.2},{"c":"C5a","d":"s","x":269.5,"y":80.7},{"c":"C5a","d":"s","x":273.0,"y":81.3},
{"c":"C5s","d":"s","x":267.5,"y":73.9},{"c":"C5s","d":"s","x":269,"y":74.3},{"c":"C5s","d":"s","x":270.5,"y":73.9},{"c":"C5s","d":"s","x":269,"y":73.5},{"c":"C5s","d":"s","x":267.5,"y":73.9},
{"c":"r2tb","d":"s","x":270.5,"y":73.9},{"c":"r2tb","d":"s","x":279.5,"y":73.9},
{"c":"C5b","d":"s","x":266.5,"y":67.2},{"c":"C5b","d":"s","x":271.5,"y":67.4},{"c":"C5b","d":"s","x":274,"y":65.4},{"c":"C5b","d":"s","x":272.5,"y":63.5},{"c":"C5b","d":"s","x":267.5,"y":63.3},{"c":"C5b","d":"s","x":265.4,"y":65.4},{"c":"C5b","d":"s","x":266.5,"y":67.2},
{"c":"KB0","d":"s","x":124,"y":29.4},{"c":"KB0","d":"s","x":130,"y":29.2},{"c":"KB0","d":"s","x":135.5,"y":27.7},{"c":"KB0","d":"s","x":139.4,"y":24.4},{"c":"KB0","d":"s","x":137.9,"y":21.4},{"c":"KB0","d":"s","x":133.9,"y":19.7},{"c":"KB0","d":"s","x":124,"y":19.4},
{"c":"eqb","d":"s","x":124,"y":24.9},{"c":"eqb","d":"s","x":134.4,"y":24.9},
{"c":"KB1a","d":"d","x":215.9,"y":33.4},{"c":"KB1a","d":"d","x":193.8,"y":32.1},{"c":"KB1a","d":"d","x":178.1,"y":30.4},{"c":"KB1a","d":"d","x":171.8,"y":27.4},{"c":"KB1a","d":"d","x":171.0,"y":23.7},{"c":"KB1a","d":"d","x":174.9,"y":19.4},{"c":"KB1a","d":"d","x":184.4,"y":17.4},{"c":"KB1a","d":"d","x":197.0,"y":16.1},{"c":"KB1a","d":"d","x":215.9,"y":15.4},
{"c":"KB1b","d":"d","x":236.5,"y":33.1},{"c":"KB1b","d":"d","x":253.7,"y":31.1},{"c":"KB1b","d":"d","x":263.2,"y":28.4},{"c":"KB1b","d":"d","x":268.7,"y":25.1},{"c":"KB1b","d":"d","x":267.9,"y":22.4},{"c":"KB1b","d":"d","x":261.6,"y":18.7},{"c":"KB1b","d":"d","x":247.4,"y":16.7},{"c":"KB1b","d":"d","x":236.5,"y":15.9},
{"c":"KB2","d":"d","x":215.9,"y":30.9},{"c":"KB2","d":"d","x":193.8,"y":29.1},{"c":"KB2","d":"d","x":184.4,"y":27.1},{"c":"KB2","d":"d","x":182.8,"y":24.7},{"c":"KB2","d":"d","x":183.6,"y":22.4},{"c":"KB2","d":"d","x":190.7,"y":20.4},{"c":"KB2","d":"d","x":206.4,"y":18.7},{"c":"KB2","d":"d","x":225.3,"y":18.1},{"c":"KB2","d":"d","x":242.7,"y":19.7},{"c":"KB2","d":"d","x":255.3,"y":22.1},{"c":"KB2","d":"d","x":259.2,"y":24.4},{"c":"KB2","d":"d","x":258.5,"y":26.4},{"c":"KB2","d":"d","x":250.6,"y":28.7},{"c":"KB2","d":"d","x":236.5,"y":30.7},
{"c":"KB3","d":"d","x":194.6,"y":24.4},{"c":"KB3","d":"d","x":197.0,"y":26.7},{"c":"KB3","d":"d","x":206.4,"y":28.4},{"c":"KB3","d":"d","x":222.2,"y":29.1},{"c":"KB3","d":"d","x":237.9,"y":28.1},{"c":"KB3","d":"d","x":244.3,"y":24.4},{"c":"KB3","d":"d","x":238.7,"y":22.1},{"c":"KB3","d":"d","x":226.9,"y":20.7},{"c":"KB3","d":"d","x":209.6,"y":21.1},{"c":"KB3","d":"d","x":198.6,"y":22.4},{"c":"KB3","d":"d","x":194.6,"y":24.4},
{"c":"KB4","d":"d","x":208.0,"y":24.4},{"c":"KB4","d":"d","x":212.7,"y":26.1},{"c":"KB4","d":"d","x":222.2,"y":26.9},{"c":"KB4","d":"d","x":231.6,"y":26.1},{"c":"KB4","d":"d","x":233.2,"y":24.4},{"c":"KB4","d":"d","x":230.9,"y":23.1},{"c":"KB4","d":"d","x":220.6,"y":22.4},{"c":"KB4","d":"d","x":212.7,"y":23.1},{"c":"KB4","d":"d","x":208.0,"y":24.4},
{"c":"kbt","d":"s","x":271,"y":25.2},{"c":"kbt","d":"s","x":280,"y":25.2}
],
"lb": [
{"x":149.8,"y":77.5,"t":"0.1"},{"x":149.8,"y":80.0,"t":"0.2"},
{"x":139.5,"y":73.3,"t":"−0.2"},{"x":153.5,"y":71.0,"t":"−0.1"},{"x":184.2,"y":78.4,"t":"−0.1"},{"x":184.4,"y":70.9,"t":"0.1"},
{"x":149.8,"y":59.4,"t":"0.1"},{"x":149.8,"y":62.7,"t":"0.2"},{"x":186.6,"y":62.4,"t":"−0.2"},{"x":184.2,"y":59.5,"t":"−0.1"},
{"x":217.4,"y":48.7,"t":"0"},
{"x":226.1,"y":33.6,"t":"−0.1"},{"x":226.1,"y":31.0,"t":"−0.2"},{"x":224.6,"y":19.9,"t":"−0.3"},{"x":226.1,"y":15.4,"t":"−0.1"}
],
"sbr": [{"x":118.8,"y":73.8,"t":"EQ"},{"x":119.7,"y":24.4,"t":"EQ"}],
"sbl": [{"x":281.9,"y":73.9,"t":"R2"},{"x":284.3,"y":25.2,"t":"K"}],
"ssta_a": [
{"x":124.0,"v":0.23},{"x":127.5,"v":0.16},{"x":131.4,"v":0.19},{"x":133.8,"v":0.35},{"x":136.9,"v":0.31},{"x":140.1,"v":0.19},{"x":143.2,"v":0.04},{"x":145.6,"v":-0.03},{"x":148.7,"v":-0.18},{"x":152.7,"v":-0.28},{"x":156.6,"v":-0.35},{"x":159.8,"v":-0.32},{"x":162.9,"v":-0.38},{"x":165.3,"v":-0.28},{"x":168.4,"v":-0.18},{"x":170.0,"v":-0.09},{"x":171.6,"v":0.09},{"x":174.0,"v":0.31},{"x":177.1,"v":0.41},{"x":180.3,"v":0.53},{"x":184.2,"v":0.60},{"x":188.1,"v":0.70},{"x":192.1,"v":0.79},{"x":196.0,"v":0.86},{"x":200.0,"v":0.96},{"x":204.7,"v":1.04},{"x":208.6,"v":1.23},{"x":211.8,"v":1.43},{"x":215.7,"v":1.59},{"x":218.9,"v":1.72},{"x":222.0,"v":1.84},{"x":226.0,"v":1.91},{"x":229.1,"v":2.06},{"x":232.3,"v":2.16},{"x":236.2,"v":2.35},{"x":240.2,"v":2.32},{"x":243.3,"v":2.35},{"x":247.2,"v":2.42},{"x":250.4,"v":2.45},{"x":255.1,"v":2.42},{"x":259.9,"v":2.42},{"x":264.6,"v":2.42},{"x":267.7,"v":2.60},{"x":270.1,"v":2.50},{"x":272.5,"v":2.35},{"x":274.8,"v":2.64},{"x":277.2,"v":3.15},{"x":278.8,"v":3.33},{"x":280.0,"v":3.37}
],
"ua_a": [
{"x":124.3,"u":-4.20},{"x":126.7,"u":-3.47},{"x":129.8,"u":-3.33},{"x":133.0,"u":-3.33},{"x":136.1,"u":-2.74},{"x":139.3,"u":-2.16},{"x":142.4,"u":-1.58},{"x":145.6,"u":-1.23},{"x":148.7,"u":-1.14},{"x":152.7,"u":-1.14},{"x":155.8,"u":-0.93},{"x":159.0,"u":-0.26},{"x":162.1,"u":0.47},{"x":165.3,"u":0.82},{"x":168.4,"u":1.20},{"x":171.6,"u":0.99},{"x":174.7,"u":0.91},{"x":177.1,"u":1.64},{"x":179.5,"u":2.51},{"x":182.6,"u":3.09},{"x":185.8,"u":3.45},{"x":188.9,"u":4.12},{"x":192.1,"u":4.70},{"x":196.0,"u":5.08},{"x":200.0,"u":4.70},{"x":204.7,"u":4.32},{"x":209.4,"u":4.03},{"x":214.1,"u":3.97},{"x":218.9,"u":3.68},{"x":223.6,"u":3.33},{"x":226.8,"u":3.09},{"x":229.9,"u":2.22},{"x":233.1,"u":1.84},{"x":237.0,"u":1.64},{"x":240.2,"u":0.76},{"x":243.3,"u":0.61},{"x":246.5,"u":0.82},{"x":249.6,"u":0.99},{"x":253.6,"u":0.76},{"x":257.5,"u":0.61},{"x":260.6,"u":0.82},{"x":263.0,"u":0.47},{"x":266.2,"u":0.23},{"x":270.1,"u":0.18},{"x":273.3,"u":0.61},{"x":275.6,"u":0.47},{"x":278.0,"u":0.76},{"x":280.0,"u":1.78}
],
"ssta_b": [
{"x":124.0,"v":0.38},{"x":127.1,"v":0.38},{"x":130.3,"v":0.55},{"x":133.4,"v":0.74},{"x":135.8,"v":0.70},{"x":137.4,"v":0.60},{"x":142.1,"v":0.60},{"x":146.8,"v":0.50},{"x":151.6,"v":0.35},{"x":156.3,"v":0.20},{"x":159.4,"v":-0.09},{"x":161.8,"v":-0.42},{"x":164.2,"v":-0.57},{"x":167.3,"v":-0.50},{"x":170.5,"v":-0.20},{"x":173.6,"v":0.12},{"x":176.8,"v":0.16},{"x":180.7,"v":0.12},{"x":184.6,"v":0.09},{"x":187.8,"v":0.06},{"x":190.9,"v":0.16},{"x":194.1,"v":0.38},{"x":198.0,"v":0.60},{"x":202.0,"v":0.74},{"x":205.9,"v":0.99},{"x":209.8,"v":1.23},{"x":213.8,"v":1.33},{"x":216.1,"v":1.40},{"x":219.3,"v":1.28},{"x":222.4,"v":1.23},{"x":227.2,"v":1.18},{"x":231.9,"v":1.14},{"x":236.6,"v":1.08},{"x":239.0,"v":1.11},{"x":241.3,"v":1.26},{"x":243.7,"v":1.43},{"x":246.8,"v":1.47},{"x":249.2,"v":1.43},{"x":251.6,"v":1.52},{"x":255.5,"v":1.55},{"x":258.6,"v":1.62},{"x":261.8,"v":1.96},{"x":265.7,"v":2.28},{"x":268.9,"v":2.64},{"x":271.3,"v":3.01},{"x":273.6,"v":3.59},{"x":275.2,"v":3.88},{"x":276.8,"v":4.00},{"x":278.3,"v":3.88},{"x":279.4,"v":3.66},{"x":279.9,"v":3.52}
],
"ua_b": [
{"x":124.0,"u":-0.55},{"x":127.1,"u":-1.14},{"x":130.3,"u":-1.72},{"x":133.4,"u":-2.16},{"x":135.8,"u":-2.31},{"x":138.2,"u":-2.01},{"x":141.3,"u":-1.58},{"x":145.3,"u":-1.43},{"x":150.0,"u":-1.14},{"x":154.7,"u":-1.05},{"x":157.1,"u":-0.85},{"x":159.4,"u":-0.26},{"x":162.6,"u":0.32},{"x":166.5,"u":0.76},{"x":170.5,"u":0.61},{"x":175.2,"u":0.70},{"x":179.9,"u":1.05},{"x":183.1,"u":1.20},{"x":187.0,"u":0.76},{"x":190.9,"u":0.47},{"x":194.9,"u":0.76},{"x":198.8,"u":0.91},{"x":203.5,"u":1.05},{"x":207.5,"u":0.91},{"x":210.6,"u":0.32},{"x":213.8,"u":-0.26},{"x":217.7,"u":-0.35},{"x":220.9,"u":-0.12},{"x":224.0,"u":0.70},{"x":227.2,"u":1.49},{"x":231.9,"u":1.64},{"x":235.8,"u":1.58},{"x":239.0,"u":1.78},{"x":242.1,"u":1.34},{"x":246.0,"u":-0.26},{"x":250.0,"u":-1.14},{"x":255.5,"u":-1.58},{"x":259.4,"u":-1.58},{"x":261.8,"u":-1.14},{"x":264.2,"u":-0.12},{"x":267.3,"u":0.61},{"x":269.7,"u":0.99},{"x":272.8,"u":0.61},{"x":276.8,"u":0.53},{"x":279.9,"u":0.41}
]
},
"columns": 2,
"spacing": {"row": 42, "column": 109},
"bounds": "flush",
"concat": [
 {"width": 330, "height": 497,
  "layer": [
   {"data": {"name": "ca"}, "mark": {"type": "line", "color": "black", "strokeWidth": 1.6},
    "encoding": {
     "x": {"field": "x", "type": "quantitative", "scale": {"domain": [124, 280], "nice": false, "zero": false}, "axis": {"values": [140, 180, 220, 260], "labels": false, "tickSize": 7, "title": null}},
     "y": {"field": "y", "type": "quantitative", "scale": {"domain": [0, 99.4], "nice": false, "zero": false}, "axis": null},
     "detail": {"field": "c", "type": "nominal"},
     "strokeDash": {"field": "d", "type": "nominal", "scale": {"domain": ["s", "d"], "range": [[1, 0], [4, 3]]}, "legend": null},
     "order": {"value": null}}},
   {"data": {"name": "la"}, "mark": {"type": "text", "font": "Liberation Sans", "fontSize": 17, "fill": "white", "stroke": "white", "strokeWidth": 5},
    "encoding": {"x": {"field": "x", "type": "quantitative", "scale": {"domain": [124, 280], "nice": false, "zero": false}}, "y": {"field": "y", "type": "quantitative", "scale": {"domain": [0, 99.4], "nice": false, "zero": false}}, "text": {"field": "t"}}},
   {"data": {"name": "la"}, "mark": {"type": "text", "font": "Liberation Sans", "fontSize": 17, "color": "black"},
    "encoding": {"x": {"field": "x", "type": "quantitative", "scale": {"domain": [124, 280], "nice": false, "zero": false}}, "y": {"field": "y", "type": "quantitative", "scale": {"domain": [0, 99.4], "nice": false, "zero": false}}, "text": {"field": "t"}}},
   {"data": {"name": "sar"}, "mark": {"type": "text", "font": "Liberation Serif", "fontSize": 20, "align": "right", "color": "black"},
    "encoding": {"x": {"field": "x", "type": "quantitative", "scale": {"domain": [124, 280], "nice": false, "zero": false}}, "y": {"field": "y", "type": "quantitative", "scale": {"domain": [0, 99.4], "nice": false, "zero": false}}, "text": {"field": "t"}}},
   {"data": {"name": "sal"}, "mark": {"type": "text", "font": "Liberation Serif", "fontSize": 20, "align": "left", "color": "black"},
    "encoding": {"x": {"field": "x", "type": "quantitative", "scale": {"domain": [124, 280], "nice": false, "zero": false}}, "y": {"field": "y", "type": "quantitative", "scale": {"domain": [0, 99.4], "nice": false, "zero": false}}, "text": {"field": "t"}}},
   {"data": {"values": [{"x": 196.3, "y": 101.6, "t": "(a)"}]}, "mark": {"type": "text", "font": "Liberation Serif", "fontSize": 22, "color": "black"},
    "encoding": {"x": {"field": "x", "type": "quantitative", "scale": {"domain": [124, 280], "nice": false, "zero": false}}, "y": {"field": "y", "type": "quantitative", "scale": {"domain": [0, 99.4], "nice": false, "zero": false}}, "text": {"field": "t"}}}
  ]},
 {"width": 330, "height": 497,
  "layer": [
   {"data": {"name": "cb"}, "mark": {"type": "line", "color": "black", "strokeWidth": 1.6},
    "encoding": {
     "x": {"field": "x", "type": "quantitative", "scale": {"domain": [124, 280], "nice": false, "zero": false}, "axis": {"values": [140, 180, 220, 260], "labels": false, "tickSize": 7, "title": null}},
     "y": {"field": "y", "type": "quantitative", "scale": {"domain": [0, 99.4], "nice": false, "zero": false}, "axis": null},
     "detail": {"field": "c", "type": "nominal"},
     "strokeDash": {"field": "d", "type": "nominal", "scale": {"domain": ["s", "d"], "range": [[1, 0], [4, 3]]}, "legend": null},
     "order": {"value": null}}},
   {"data": {"name": "lb"}, "mark": {"type": "text", "font": "Liberation Sans", "fontSize": 17, "fill": "white", "stroke": "white", "strokeWidth": 5},
    "encoding": {"x": {"field": "x", "type": "quantitative", "scale": {"domain": [124, 280], "nice": false, "zero": false}}, "y": {"field": "y", "type": "quantitative", "scale": {"domain": [0, 99.4], "nice": false, "zero": false}}, "text": {"field": "t"}}},
   {"data": {"name": "lb"}, "mark": {"type": "text", "font": "Liberation Sans", "fontSize": 17, "color": "black"},
    "encoding": {"x": {"field": "x", "type": "quantitative", "scale": {"domain": [124, 280], "nice": false, "zero": false}}, "y": {"field": "y", "type": "quantitative", "scale": {"domain": [0, 99.4], "nice": false, "zero": false}}, "text": {"field": "t"}}},
   {"data": {"name": "sbr"}, "mark": {"type": "text", "font": "Liberation Serif", "fontSize": 20, "align": "right", "color": "black"},
    "encoding": {"x": {"field": "x", "type": "quantitative", "scale": {"domain": [124, 280], "nice": false, "zero": false}}, "y": {"field": "y", "type": "quantitative", "scale": {"domain": [0, 99.4], "nice": false, "zero": false}}, "text": {"field": "t"}}},
   {"data": {"name": "sbl"}, "mark": {"type": "text", "font": "Liberation Serif", "fontSize": 20, "align": "left", "color": "black"},
    "encoding": {"x": {"field": "x", "type": "quantitative", "scale": {"domain": [124, 280], "nice": false, "zero": false}}, "y": {"field": "y", "type": "quantitative", "scale": {"domain": [0, 99.4], "nice": false, "zero": false}}, "text": {"field": "t"}}},
   {"data": {"values": [{"x": 205.3, "y": 101.6, "t": "(b)"}]}, "mark": {"type": "text", "font": "Liberation Serif", "fontSize": 22, "color": "black"},
    "encoding": {"x": {"field": "x", "type": "quantitative", "scale": {"domain": [124, 280], "nice": false, "zero": false}}, "y": {"field": "y", "type": "quantitative", "scale": {"domain": [0, 99.4], "nice": false, "zero": false}}, "text": {"field": "t"}}}
  ]},
 {"width": 330, "height": 183,
  "layer": [
   {"layer": [
     {"data": {"values": [{"v": 0}]}, "mark": {"type": "rule", "color": "black", "strokeWidth": 1.3},
      "encoding": {"y": {"field": "v", "type": "quantitative", "scale": {"domain": [-4, 4], "nice": false}}}},
     {"data": {"name": "ssta_a"}, "mark": {"type": "line", "color": "black", "strokeWidth": 1.6},
      "encoding": {
       "x": {"field": "x", "type": "quantitative", "scale": {"domain": [124, 280], "nice": false, "zero": false}, "axis": {"values": [140, 180, 220, 260], "tickSize": 7, "labelPadding": 4, "title": null, "labelExpr": "datum.value == 140 ? '140E' : datum.value == 180 ? '180' : datum.value == 220 ? '140W' : '100W'"}},
       "y": {"field": "v", "type": "quantitative", "scale": {"domain": [-4, 4], "nice": false}, "axis": {"values": [-4, -2, 0, 2, 4], "tickSize": -9, "labelPadding": 20, "title": "SSTA/°C", "titlePadding": 8}}}}
   ]},
   {"data": {"name": "ua_a"}, "mark": {"type": "line", "color": "black", "strokeWidth": 1.4, "strokeDash": [4, 3]},
    "encoding": {
     "x": {"field": "x", "type": "quantitative", "scale": {"domain": [124, 280], "nice": false, "zero": false}},
     "y": {"field": "u", "type": "quantitative", "scale": {"domain": [-8, 8], "nice": false}, "axis": {"orient": "right", "values": [-8, -4, 0, 4, 8], "tickSize": -9, "labelPadding": 17, "title": null}}}}
  ],
  "resolve": {"scale": {"y": "independent"}}},
 {"width": 330, "height": 183,
  "layer": [
   {"layer": [
     {"data": {"values": [{"v": 0}]}, "mark": {"type": "rule", "color": "black", "strokeWidth": 1.3},
      "encoding": {"y": {"field": "v", "type": "quantitative", "scale": {"domain": [-4, 4], "nice": false}}}},
     {"data": {"name": "ssta_b"}, "mark": {"type": "line", "color": "black", "strokeWidth": 1.6},
      "encoding": {
       "x": {"field": "x", "type": "quantitative", "scale": {"domain": [124, 280], "nice": false, "zero": false}, "axis": {"values": [140, 180, 220, 260], "tickSize": 7, "labelPadding": 4, "title": null, "labelExpr": "datum.value == 140 ? '140E' : datum.value == 180 ? '180' : datum.value == 220 ? '140W' : '100W'"}},
       "y": {"field": "v", "type": "quantitative", "scale": {"domain": [-4, 4], "nice": false}, "axis": {"values": [-4, -2, 0, 2, 4], "tickSize": -9, "labelPadding": 19, "title": null}}}}
   ]},
   {"data": {"name": "ua_b"}, "mark": {"type": "line", "color": "black", "strokeWidth": 1.4, "strokeDash": [7, 4]},
    "encoding": {
     "x": {"field": "x", "type": "quantitative", "scale": {"domain": [124, 280], "nice": false, "zero": false}},
     "y": {"field": "u", "type": "quantitative", "scale": {"domain": [-8, 8], "nice": false}, "axis": {"orient": "right", "values": [-8, -4, 0, 4, 8], "tickSize": -9, "labelPadding": 17, "title": "UA/m·s⁻¹", "titleAngle": 270, "titleBaseline": "top", "titlePadding": 12}}}}
  ],
  "resolve": {"scale": {"y": "independent"}}}
]
}
